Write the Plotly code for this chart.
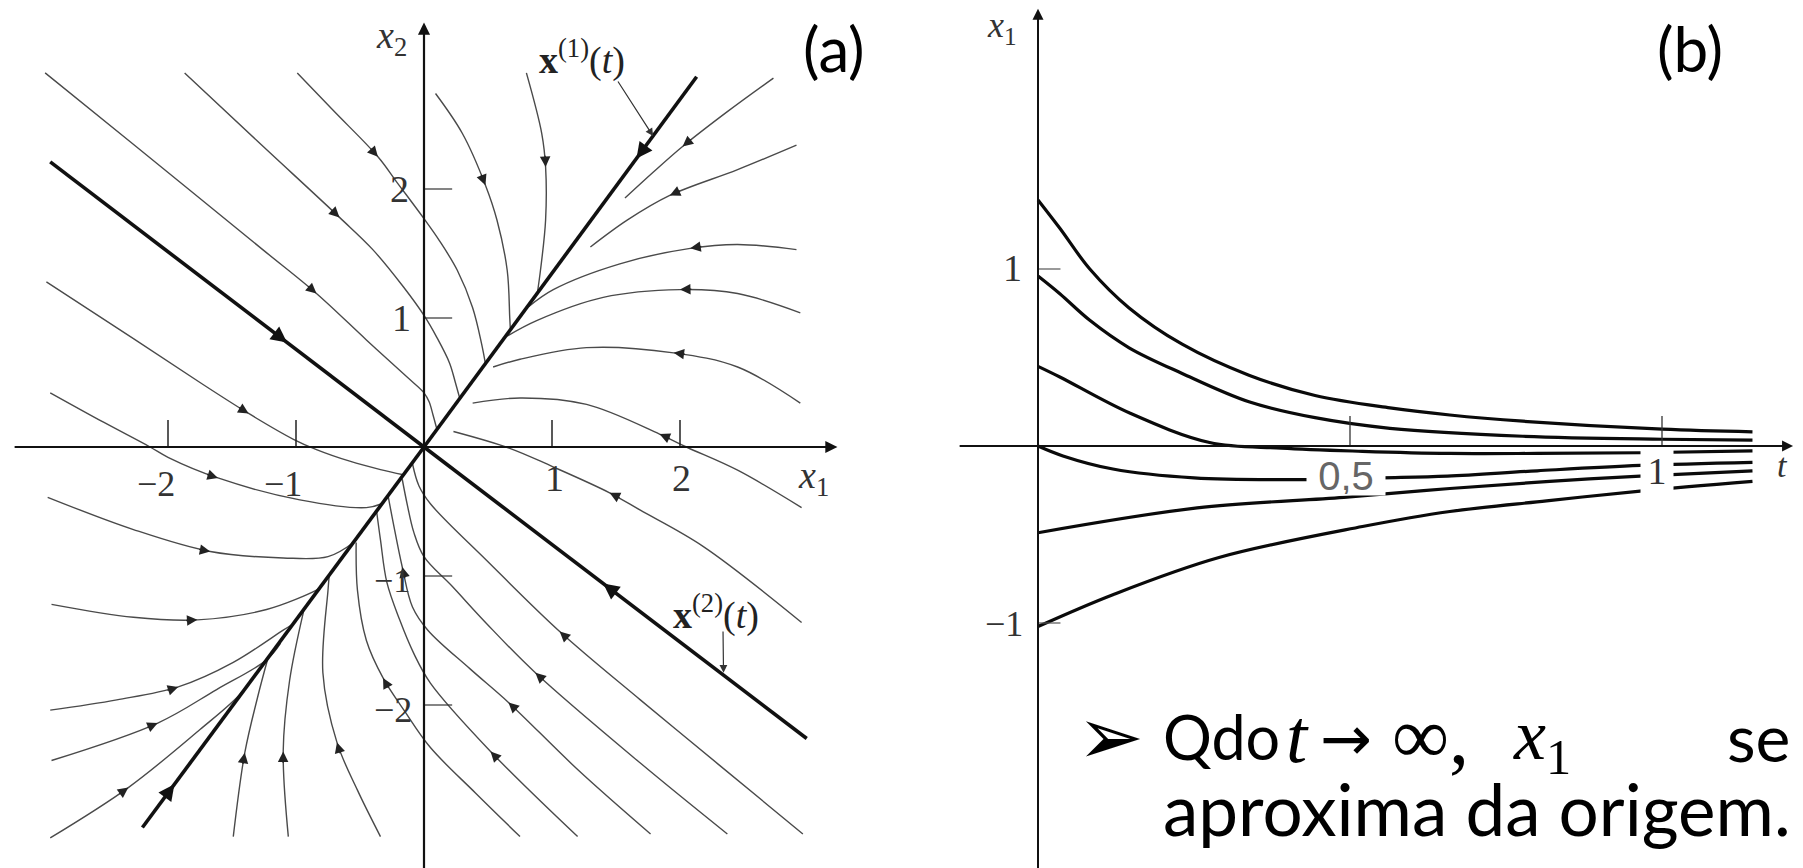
import math
import plotly.graph_objects as go

W, H = 1803, 868

# ---------------- (a) phase plane: trajectories, each listed in the direction of motion ----------------
# upper-left half-plane, coming down towards the x^(1) line
u0 = [(-2.92, 0.42), (-2.50, 0.19), (-2.14, 0.00), (-2.00, -0.08), (-1.61, -0.24), (-0.97, -0.41), (-0.45, -0.47), (-0.33, -0.44)]
u1 = [(-2.95, 1.28), (-2.27, 0.84), (-1.75, 0.50), (-1.37, 0.26), (-1.02, 0.06), (-0.84, -0.02), (-0.58, -0.11), (-0.34, -0.175), (-0.16, -0.215)]
u2 = [(-2.96, 2.90), (-2.30, 2.37), (-1.26, 1.53), (-0.84, 1.19), (-0.45, 0.83), (-0.13, 0.54), (0.00, 0.42), (0.04, 0.35), (0.07, 0.25), (0.10, 0.14)]
u3 = [(-1.87, 2.90), (-1.30, 2.37), (-0.66, 1.78), (-0.40, 1.53), (-0.16, 1.24), (0.00, 1.02), (0.10, 0.85), (0.20, 0.65), (0.245, 0.50), (0.28, 0.375)]
u4 = [(-0.99, 2.90), (-0.71, 2.61), (-0.36, 2.25), (-0.21, 2.05), (0.00, 1.77), (0.12, 1.60), (0.26, 1.37), (0.38, 1.08), (0.45, 0.80), (0.48, 0.645)]
q1a = [(0.09, 2.74), (0.30, 2.43), (0.48, 2.03), (0.57, 1.76), (0.65, 1.37), (0.67, 1.00), (0.675, 0.905)]
q1b = [(0.80, 2.90), (0.92, 2.43), (0.95, 2.17), (0.95, 1.76), (0.91, 1.37), (0.885, 1.19)]
# right side, moving left into the x^(1) line
r1 = [(2.73, 2.86), (2.37, 2.60), (2.02, 2.33), (1.79, 2.13), (1.57, 1.93)]
r2 = [(2.91, 2.34), (2.45, 2.15), (1.92, 1.95), (1.59, 1.76), (1.30, 1.55)]
r3 = [(2.91, 1.53), (2.45, 1.57), (2.08, 1.54), (1.53, 1.42), (1.01, 1.22), (0.82, 1.09)]
r4 = [(2.94, 1.04), (2.45, 1.19), (2.00, 1.22), (1.40, 1.16), (0.88, 0.98), (0.65, 0.86)]
r5 = [(2.94, 0.34), (2.45, 0.62), (1.95, 0.73), (1.27, 0.77), (0.75, 0.68), (0.54, 0.62)]
r6 = [(2.95, -0.47), (2.45, -0.18), (2.05, 0.00), (1.84, 0.10), (1.27, 0.33), (0.75, 0.38), (0.38, 0.34)]
r7 = [(2.95, -1.36), (2.18, -0.77), (1.69, -0.49), (1.45, -0.355), (1.00, -0.15), (0.67, -0.01), (0.23, 0.12)]
# lower-right, crossing the x2 axis into the third quadrant
l1 = [(2.96, -3.00), (2.30, -2.46), (1.69, -1.96), (1.06, -1.43), (0.49, -0.88), (0.05, -0.44), (-0.04, -0.30), (-0.09, -0.13)]
l2 = [(2.37, -3.00), (1.69, -2.45), (0.87, -1.75), (0.49, -1.37), (0.22, -1.08), (0.00, -0.85), (-0.08, -0.66), (-0.13, -0.45), (-0.17, -0.25)]
l3 = [(1.77, -3.00), (1.20, -2.50), (0.66, -1.98), (0.36, -1.72), (0.03, -1.42), (-0.09, -1.24), (-0.17, -0.93), (-0.24, -0.59), (-0.28, -0.38)]
l4 = [(1.20, -3.02), (0.52, -2.36), (0.05, -1.83), (-0.08, -1.60), (-0.19, -1.34), (-0.29, -1.05), (-0.34, -0.72), (-0.37, -0.50)]
l5 = [(0.75, -3.02), (0.40, -2.68), (0.05, -2.33), (-0.15, -2.05), (-0.32, -1.79), (-0.45, -1.50), (-0.52, -1.11), (-0.53, -0.74)]
# third quadrant, coming in from the left and from below
z2 = [(-2.94, -0.39), (-2.27, -0.64), (-1.67, -0.81), (-1.10, -0.86), (-0.75, -0.85), (-0.55, -0.74)]
z3 = [(-2.91, -1.22), (-2.27, -1.32), (-1.77, -1.34), (-1.23, -1.26), (-0.84, -1.11), (-0.81, -1.09)]
z4 = [(-2.92, -2.04), (-2.40, -1.96), (-1.92, -1.86), (-1.49, -1.67), (-1.10, -1.42), (-1.02, -1.37)]
z5 = [(-2.91, -2.43), (-2.08, -2.14), (-1.62, -1.88), (-1.23, -1.65), (-1.12, -1.52)]
z6 = [(-2.92, -3.03), (-2.31, -2.64), (-1.75, -2.19), (-1.45, -1.93), (-1.30, -1.74)]
z7 = [(-1.49, -3.02), (-1.40, -2.37), (-1.30, -1.94), (-1.22, -1.64)]
z8 = [(-1.06, -3.02), (-1.10, -2.36), (-1.05, -1.81), (-0.94, -1.27)]
z9 = [(-0.34, -3.02), (-0.52, -2.66), (-0.68, -2.29), (-0.79, -1.75), (-0.75, -1.11), (-0.74, -0.99)]

# straight-line solutions x^(1)(t) and x^(2)(t), each half running into the origin
eig1_upper = [(2.13, 2.87), (1.66, 2.236), (0.0, 0.0)]
eig1_lower = [(-2.20, -2.95), (-1.95, -2.615), (0.0, 0.0)]
eig2_upper = [(-2.92, 2.21), (-1.07, 0.81), (0.0, 0.0)]
eig2_lower = [(2.99, -2.26), (1.40, -1.058), (0.0, 0.0)]

a_ticks = [-2, -1, 1, 2]

# ---------------- (b) x1 versus t ----------------
t_a = [0, 0.035, 0.083, 0.146, 0.231, 0.338, 0.444, 0.564, 0.66, 0.777, 1.0, 1.145]
x1_a = [1.39, 1.23, 1.0, 0.78, 0.575, 0.40, 0.285, 0.215, 0.175, 0.14, 0.095, 0.08]
t_b = [0, 0.035, 0.083, 0.146, 0.231, 0.338, 0.444, 0.564, 0.777, 1.0, 1.145]
x1_b = [0.96, 0.86, 0.71, 0.555, 0.41, 0.25, 0.16, 0.10, 0.055, 0.038, 0.033]
t_c = [0, 0.035, 0.147, 0.275, 0.39, 0.52, 0.66, 0.8, 0.965, 1.145]
x1_c = [0.45, 0.39, 0.186, 0.02, -0.012, -0.03, -0.042, -0.042, -0.038, -0.028]
t_d = [0, 0.04, 0.12, 0.25, 0.43, 0.55, 0.656, 0.8, 0.965, 1.145]
x1_d = [0, -0.056, -0.13, -0.18, -0.19, -0.18, -0.17, -0.14, -0.11, -0.092]
t_e = [0, 0.255, 0.49, 0.66, 0.82, 0.965, 1.145]
x1_e = [-0.49, -0.35, -0.29, -0.24, -0.2, -0.17, -0.14]
t_f = [0, 0.12, 0.29, 0.52, 0.66, 0.815, 0.965, 1.145]
x1_f = [-1.02, -0.84, -0.63, -0.455, -0.37, -0.31, -0.255, -0.2]

b_t_ticks = [0.5, 1]
b_x_ticks = [-1, 1]

# ---------------- geometry of the two panels (pixels) ----------------
A_O, A_U = (424, 447), (128, 129)
B_O, B_U = (1038, 446), (624, 177)

def px(xp, yp):
    return xp / W, 1 - yp / H

SERIF = "Liberation Serif"
SANS = "Lato"
THIN = "#4a4a4a"

fig = go.Figure()
ann, shapes = [], []

def arrow(head, prev, nxt, width, size, color, ref=("x", "y")):
    dx, dy = nxt[0] - prev[0], nxt[1] - prev[1]
    n = math.hypot(dx, dy)
    back = 0.10
    ann.append(dict(x=head[0], y=head[1], ax=head[0] - back * dx / n, ay=head[1] - back * dy / n,
                    xref=ref[0], yref=ref[1], axref=ref[0], ayref=ref[1], text="", showarrow=True,
                    arrowhead=2, arrowsize=size, arrowwidth=width, arrowcolor=color, standoff=0))

thin_curves = [
    (u0, [4]), (u1, [3]), (u2, [3]), (u3, [2]), (u4, [2]), (q1a, [2]), (q1b, [2]),
    (r1, [2]), (r2, [2]), (r3, [2]), (r4, [2]), (r5, [2]), (r6, [3]), (r7, [3]),
    (l1, [3]), (l2, [2]), (l3, [2, 6]), (l4, [1]), (l5, [4]),
    (z2, [2]), (z3, [2]), (z4, [2]), (z5, [1]), (z6, [1]), (z7, [1]), (z8, [1]), (z9, [2]),
]
for pts, heads in thin_curves:
    fig.add_trace(go.Scatter(x=[p[0] for p in pts], y=[p[1] for p in pts], mode="lines",
                             line=dict(color=THIN, width=1.4, shape="spline", smoothing=1.0),
                             xaxis="x", yaxis="y", hoverinfo="skip", showlegend=False))
    for i in heads:
        arrow(pts[i], pts[i - 1], pts[i + 1], 1.4, 1.5, "#222")

for pts in (eig1_upper, eig1_lower, eig2_upper, eig2_lower):
    fig.add_trace(go.Scatter(x=[p[0] for p in pts], y=[p[1] for p in pts], mode="lines",
                             line=dict(color="#111", width=3.6), xaxis="x", yaxis="y",
                             hoverinfo="skip", showlegend=False))
    arrow(pts[1], pts[0], pts[2], 3.2, 1.0, "#111")

# axes of (a)
for (x0, y0, x1, y1) in [(-3.21, 0, 3.23, 0), (0, -3.4, 0, 3.29)]:
    ann.append(dict(x=x1, y=y1, ax=x0, ay=y0, xref="x", yref="y", axref="x", ayref="y", text="",
                    showarrow=True, arrowhead=2, arrowsize=1.1, arrowwidth=2.2, arrowcolor="#111", standoff=0))
for v in a_ticks:
    shapes.append(dict(type="line", xref="x", yref="y", x0=v, x1=v, y0=0, y1=0.21, line=dict(color="#222", width=1.5)))
    shapes.append(dict(type="line", xref="x", yref="y", x0=0, x1=0.22, y0=v, y1=v, line=dict(color="#333", width=1.2)))

# curves of (b)
for tt, xx in [(t_a, x1_a), (t_b, x1_b), (t_c, x1_c), (t_d, x1_d), (t_e, x1_e), (t_f, x1_f)]:
    fig.add_trace(go.Scatter(x=tt, y=xx, mode="lines", line=dict(color="#0a0a0a", width=3.2, shape="spline", smoothing=1.0),
                             xaxis="x2", yaxis="y2", hoverinfo="skip", showlegend=False))

for (x0, y0, x1, y1) in [(-0.128, 0, 1.21, 0), (0, -2.4, 0, 2.47)]:
    ann.append(dict(x=x1, y=y1, ax=x0, ay=y0, xref="x2", yref="y2", axref="x2", ayref="y2", text="",
                    showarrow=True, arrowhead=2, arrowsize=1.1, arrowwidth=2.0, arrowcolor="#111", standoff=0))
for v in b_t_ticks:
    shapes.append(dict(type="line", xref="x2", yref="y2", x0=v, x1=v, y0=0, y1=0.17, line=dict(color="#333", width=1.3)))
for v in b_x_ticks:
    shapes.append(dict(type="line", xref="x2", yref="y2", x0=0, x1=0.036, y0=v, y1=v, line=dict(color="#555", width=1.2)))

# ---------------- text ----------------
def label(text, xp, yp, size, family=SERIF, color="#333", xanchor="center", **kw):
    x, y = px(xp, yp)
    d = dict(x=x, y=y, xref="paper", yref="paper", text=text, showarrow=False, xanchor=xanchor, yanchor="middle",
             font=dict(family=family, size=size, color=color))
    d.update(kw)
    ann.append(d)

# tick labels of (a)
label("−2", 156, 484, 36); label("−1", 283, 484, 36)
label("1", 554, 478, 38); label("2", 681, 478, 38)
label("2", 399, 189, 38); label("1", 401, 318, 38)
label("−1", 392, 580, 34); label("−2", 393, 710, 36)
label("<i>x</i><sub>2</sub>", 391, 38, 38)
label("<i>x</i><sub>1</sub>", 813, 478, 38)
label("<b>x</b><sup>(1)</sup>(<i>t</i>)", 582, 58, 38, color="#222")
label("<b>x</b><sup>(2)</sup>(<i>t</i>)", 716, 612, 38, color="#222")
# pointers to the straight-line solutions
for (x0, y0, x1, y1) in [(1.508, 2.845, 1.79, 2.41), (2.336, -1.419, 2.34, -1.75)]:
    ann.append(dict(x=x1, y=y1, ax=x0, ay=y0, xref="x", yref="y", axref="x", ayref="y", text="",
                    showarrow=True, arrowhead=2, arrowsize=1.3, arrowwidth=1.2, arrowcolor="#333", standoff=0))

# labels of (b); the boxed ones interrupt the curves behind them
label("1", 1013, 268, 38)
label("−1", 1004, 624, 36)
label("<i>x</i><sub>1</sub>", 1002, 27, 36)
label("<i>t</i>", 1782, 466, 34)
label("0,5", 1346, 476, 40, family="Liberation Sans", color="#666", bgcolor="white", width=76, height=36)
label("1", 1657, 471, 38, bgcolor="white", width=30, height=42)

label("(a)", 834, 48, 62, family=SANS, color="black")
label("(b)", 1690, 48, 62, family=SANS, color="black")

label("➢", 1110, 736, 80, family="DejaVu Sans", color="black")
label("Qdo", 1161, 736, 61, family=SANS, color="black", xanchor="left")
label("<i>t</i>", 1284, 736, 76, family=SERIF, color="black", xanchor="left")
label("→", 1318, 738, 62, family="DejaVu Sans", color="black", xanchor="left")
label("∞,", 1390, 736, 80, family=SERIF, color="black", xanchor="left")
label("<i>x</i><sub>1</sub>", 1511, 740, 72, family=SERIF, color="black", xanchor="left")
label("se", 1725, 736, 66, family=SANS, color="black", xanchor="left")
label("aproxima da origem.", 1161, 808, 71, family=SANS, color="black", xanchor="left")

fig.update_layout(
    width=W, height=H, autosize=False,
    margin=dict(l=0, r=0, t=0, b=0, pad=0),
    paper_bgcolor="white", plot_bgcolor="rgba(0,0,0,0)",
    xaxis=dict(domain=[0, 1], range=[-A_O[0] / A_U[0], (W - A_O[0]) / A_U[0]], visible=False, fixedrange=True),
    yaxis=dict(domain=[0, 1], range=[(A_O[1] - H) / A_U[1], A_O[1] / A_U[1]], visible=False, fixedrange=True, anchor="x"),
    xaxis2=dict(domain=[0, 1], range=[-B_O[0] / B_U[0], (W - B_O[0]) / B_U[0]], visible=False, fixedrange=True, anchor="y2"),
    yaxis2=dict(domain=[0, 1], range=[(B_O[1] - H) / B_U[1], B_O[1] / B_U[1]], visible=False, fixedrange=True, anchor="x2"),
    annotations=ann, shapes=shapes, showlegend=False,
)

fig.write_html("out.html")
